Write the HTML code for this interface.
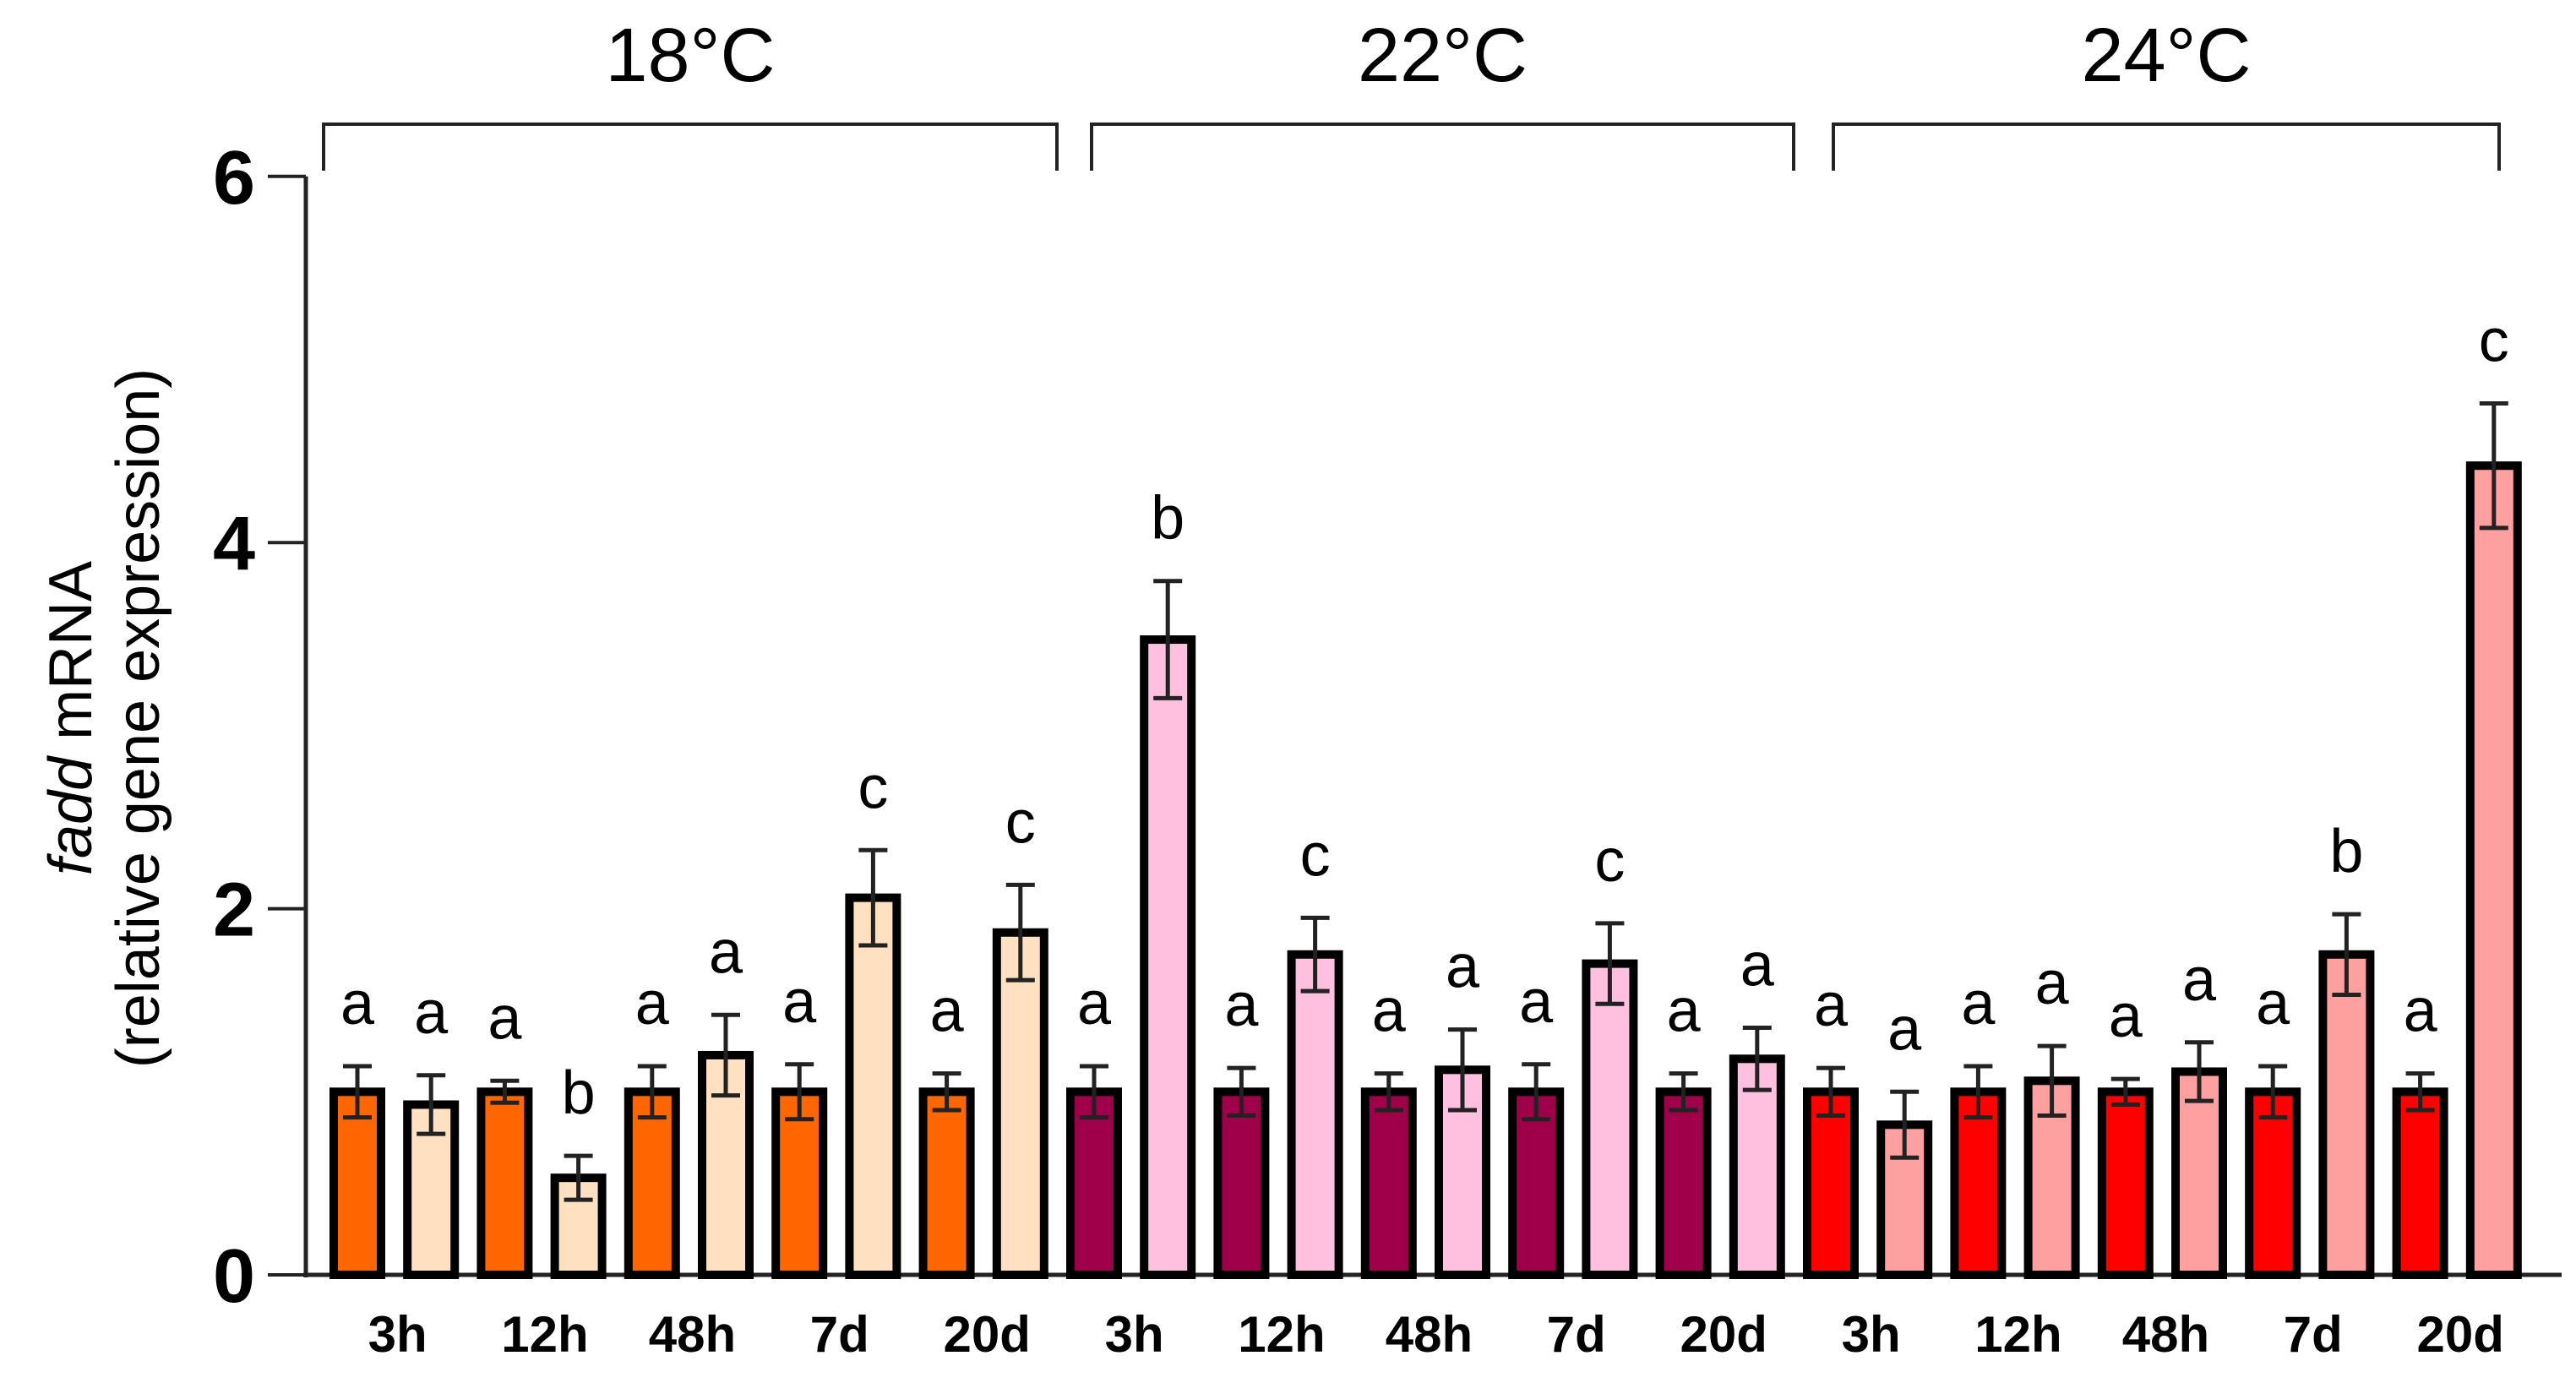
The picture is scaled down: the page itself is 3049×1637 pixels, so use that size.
<!DOCTYPE html>
<html><head><meta charset="utf-8"><style>
html,body{margin:0;padding:0;background:#fff}
svg{display:block}
text{font-family:"Liberation Sans",Arial,sans-serif}
</style></head><body>
<svg id="chart" width="3049" height="1637" viewBox="0 0 3049 1637" xmlns="http://www.w3.org/2000/svg">
<g id="axes"></g>
<g id="bars"></g>
<g id="groups"></g>
<text transform="translate(108,850) rotate(-90)" text-anchor="middle" font-size="72"><tspan font-style="italic">fadd</tspan> mRNA</text>
<text transform="translate(188,850) rotate(-90)" text-anchor="middle" font-size="72">(relative gene expression)</text>
</svg>
<script>
const groups = ["18°C","22°C","24°C"];
const times = ["3h","12h","48h","7d","20d"];
const means = [1.0,0.93,1.0,0.53,1.0,1.2,1.0,2.06,1.0,1.87,
               1.0,3.47,1.0,1.75,1.0,1.12,1.0,1.7,1.0,1.18,
               1.0,0.82,1.0,1.06,1.0,1.11,1.0,1.75,1.0,4.42];
const errors = [0.14,0.16,0.06,0.12,0.14,0.22,0.15,0.26,0.1,0.26,
                0.14,0.32,0.13,0.2,0.1,0.22,0.15,0.22,0.1,0.17,
                0.13,0.18,0.14,0.19,0.07,0.16,0.14,0.22,0.1,0.34];
const letters = ["a","a","a","b","a","a","a","c","a","c",
                 "a","b","a","c","a","a","a","c","a","a",
                 "a","a","a","a","a","a","a","b","a","c"];
const yTicks = [0,2,4,6];
const colors = [["#FF6600","#FFE0C0"],["#A0004A","#FFBFDF"],["#FF0000","#FFA0A0"]];

const NS="http://www.w3.org/2000/svg";
const X0=362, Y0=1509, YS=216.7, BX0=423, BSTEP=87.2, BW=56;
const y=v=>Y0-v*YS;
const x=i=>BX0+i*BSTEP;
function mk(tag,attrs,parent,txt){const e=document.createElementNS(NS,tag);for(const k in attrs)e.setAttribute(k,attrs[k]);if(txt!==undefined)e.textContent=txt;parent.appendChild(e);return e;}
const axes=document.getElementById('axes'), bars=document.getElementById('bars'), gg=document.getElementById('groups');

let ax=mk('line',{x1:X0,y1:y(6),x2:X0,y2:Y0+3,stroke:'#222','stroke-width':5},axes);


let xx=mk('line',{x1:X0-3,y1:Y0,x2:3032,y2:Y0,stroke:'#222','stroke-width':5},axes);


yTicks.forEach(t=>{
  let l=mk('line',{x1:X0-45,y1:y(t),x2:X0,y2:y(t),stroke:'#222','stroke-width':4},axes);
  
  
  let tx=mk('text',{x:X0-60,y:y(t)+32,'text-anchor':'end','font-size':90,'font-weight':'bold'},axes,String(t));
  
  
});

means.forEach((m,i)=>{
  const g=Math.floor(i/10), c=colors[g][i%2];
  let r=mk('rect',{x:x(i)-BW/2,y:y(m),width:BW,height:Y0-y(m),fill:c,stroke:'#000','stroke-width':10},bars);
  
  
  const e=errors[i];
  let eb=mk('path',{d:`M${x(i)},${y(m+e)}V${y(m-e)}M${x(i)-17},${y(m+e)}H${x(i)+17}M${x(i)-17},${y(m-e)}H${x(i)+17}`,stroke:'#222','stroke-width':5,fill:'none'},bars);
  
  
  let lt=mk('text',{x:x(i),y:y(m+e)-50,'text-anchor':'middle','font-size':72},bars,letters[i]);
  
  
});

for(let p=0;p<15;p++){
  const cx=(x(2*p)+x(2*p+1))/2+4;
  let t=mk('text',{x:cx,y:1600,'text-anchor':'middle','font-size':60,'font-weight':'bold'},axes,times[p%5]);
  
  
}

const br=[[383,1251],[1292,2123],[2170,2958]];
groups.forEach((gname,g)=>{
  const [a,b]=br[g];
  let pth=mk('path',{d:`M${a},${202}V${147}H${b}V${202}`,stroke:'#222','stroke-width':4,fill:'none'},gg);
  
  
  let t=mk('text',{x:(a+b)/2,y:96,'text-anchor':'middle','font-size':90},gg,gname);
  
  
});
</script>
</body></html>
